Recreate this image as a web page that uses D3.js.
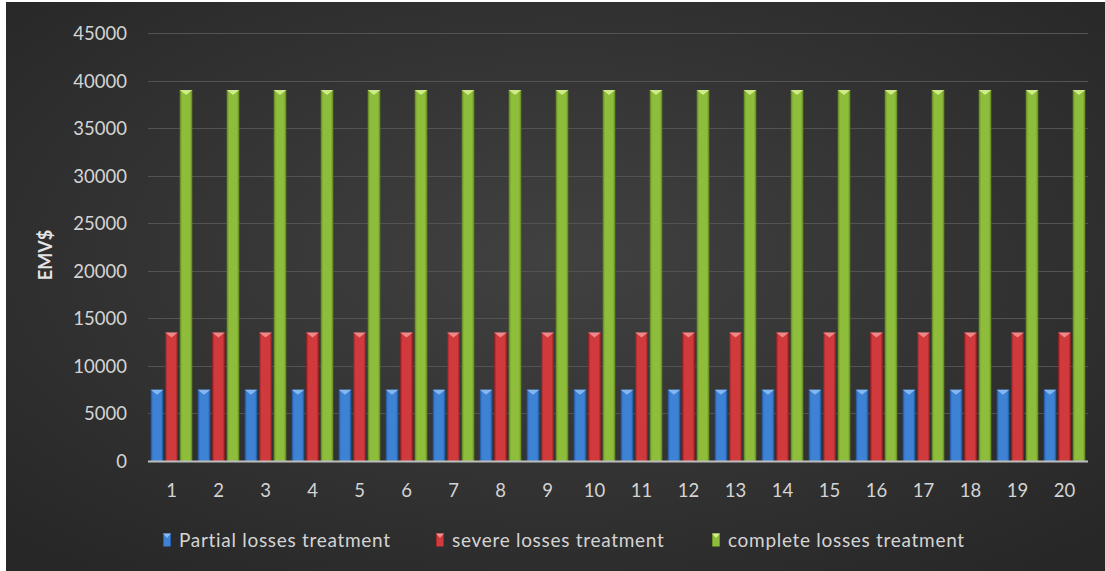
<!DOCTYPE html>
<html>
<head>
<meta charset="utf-8">
<script src="https://cdn.jsdelivr.net/npm/d3@7"></script>
<style>
  html, body { margin: 0; padding: 0; background: #ffffff; }
  svg { display: block; }
  text { font-family: Lato, "Open Sans", sans-serif; }
</style>
</head>
<body>
<svg id="chart" width="1105" height="571"></svg>
<script>
// Expected monetary value per scenario for each treatment type
const categories = ["1","2","3","4","5","6","7","8","9","10","11","12","13","14","15","16","17","18","19","20"];
const partialLosses  = [7500,7500,7500,7500,7500,7500,7500,7500,7500,7500,7500,7500,7500,7500,7500,7500,7500,7500,7500,7500];
const severeLosses   = [13500,13500,13500,13500,13500,13500,13500,13500,13500,13500,13500,13500,13500,13500,13500,13500,13500,13500,13500,13500];
const completeLosses = [39000,39000,39000,39000,39000,39000,39000,39000,39000,39000,39000,39000,39000,39000,39000,39000,39000,39000,39000,39000];
const seriesNames = ["Partial losses treatment", "severe losses treatment", "complete losses treatment"];
const yTicks = [0,5000,10000,15000,20000,25000,30000,35000,40000,45000];
const yLabel = "EMV$";

const series = [
  { name: seriesNames[0], values: partialLosses,  base: "#3d82d4", dark: "#1d4f95", light: "#8cbcf2", key: "b" },
  { name: seriesNames[1], values: severeLosses,   base: "#d13a3c", dark: "#8e1d20", light: "#f29090", key: "r" },
  { name: seriesNames[2], values: completeLosses, base: "#8dbd3a", dark: "#5a7d1e", light: "#d6f090", key: "g" }
];

const svg = d3.select("#chart");
const W = 1105, H = 571;
const defs = svg.append("defs");

// dark backdrop with a soft lighter centre
const bg = defs.append("radialGradient").attr("id", "bgGrad")
  .attr("cx", "50%").attr("cy", "45%").attr("r", "70%");
bg.append("stop").attr("offset", "0%").attr("stop-color", "#414141");
bg.append("stop").attr("offset", "100%").attr("stop-color", "#272727");

svg.append("rect").attr("x", 6).attr("y", 2).attr("width", W - 6).attr("height", H - 2)
  .attr("fill", "url(#bgGrad)");

// bevelled bar shading
series.forEach(s => {
  const g = defs.append("linearGradient").attr("id", "bar-" + s.key)
    .attr("x1", "0%").attr("x2", "100%").attr("y1", "0%").attr("y2", "0%");
  g.append("stop").attr("offset", "0%").attr("stop-color", s.dark);
  g.append("stop").attr("offset", "18%").attr("stop-color", s.base);
  g.append("stop").attr("offset", "82%").attr("stop-color", s.base);
  g.append("stop").attr("offset", "100%").attr("stop-color", s.dark);
});

const plot = { left: 148, right: 1088, top: 33, bottom: 461 };
const labelColor = "#d4d4d4";

const x = d3.scaleBand().domain(categories).range([plot.left, plot.right]).paddingInner(0).paddingOuter(0);
const inner = d3.scaleBand().domain(series.map(s => s.key))
  .range([0, x.bandwidth()]).paddingOuter(0.12).paddingInner(0);
const y = d3.scaleLinear().domain([0, 45000]).range([plot.bottom, plot.top]);

// gridlines
svg.append("g").selectAll("line").data(yTicks.filter(t => t > 0)).join("line")
  .attr("x1", plot.left).attr("x2", plot.right)
  .attr("y1", d => Math.round(y(d)) + 0.5).attr("y2", d => Math.round(y(d)) + 0.5)
  .attr("stroke", "#535353").attr("stroke-width", 1.2);

// y axis labels
const yAxis = svg.append("g").attr("transform", `translate(${plot.left - 21},0)`)
  .call(d3.axisLeft(y).tickValues(yTicks).tickSize(0).tickPadding(0).tickFormat(d3.format("d")));
yAxis.select(".domain").remove();
yAxis.selectAll("text").attr("fill", labelColor).attr("font-size", 18.5)
  .attr("font-family", "Lato, 'Open Sans', sans-serif").attr("dy", "0.35em");

// bars
const barW = inner.bandwidth() - 1.8;
series.forEach(s => {
  const grp = svg.append("g");
  const rows = categories.map((c, i) => ({ c, v: s.values[i] }));
  grp.selectAll("rect").data(rows).join("rect")
    .attr("x", d => x(d.c) + inner(s.key) + 0.9)
    .attr("y", d => y(d.v))
    .attr("width", barW)
    .attr("height", d => y(0) - y(d.v))
    .attr("fill", `url(#bar-${s.key})`);
  // small lighter bevel at the top of each bar
  grp.selectAll("path").data(rows).join("path")
    .attr("d", d => {
      const x0 = x(d.c) + inner(s.key) + 0.9, y0 = y(d.v);
      return `M${x0},${y0} L${x0 + barW},${y0} L${x0 + barW / 2},${y0 + 5} Z`;
    })
    .attr("fill", s.light).attr("opacity", 0.9);
});

// x axis baseline
svg.append("line").attr("x1", plot.left).attr("x2", plot.right)
  .attr("y1", plot.bottom + 0.5).attr("y2", plot.bottom + 0.5)
  .attr("stroke", "#bdbdbd").attr("stroke-width", 2);

// x axis labels
const xAxis = svg.append("g").attr("transform", `translate(0,${plot.bottom + 30})`)
  .call(d3.axisBottom(x).tickSize(0).tickPadding(0));
xAxis.select(".domain").remove();
xAxis.selectAll("text").attr("fill", labelColor).attr("font-size", 18.5)
  .attr("font-family", "Lato, 'Open Sans', sans-serif").attr("dy", "0.35em");

// y axis title
svg.append("text")
  .attr("transform", `translate(51.5,255) rotate(-90)`)
  .attr("text-anchor", "middle").attr("fill", "#e4e4e4")
  .attr("font-size", 18).attr("font-weight", "bold")
  .text(yLabel);

// legend
const legendX = [163, 436, 712];
const legend = svg.append("g");
series.forEach((s, i) => {
  const lg = legend.append("g").attr("transform", `translate(${legendX[i]},540)`);
  lg.append("rect").attr("x", 0).attr("y", -6.5).attr("width", 8).attr("height", 13)
    .attr("fill", `url(#bar-${s.key})`);
  lg.append("path").attr("d", "M0,-6.5 L8,-6.5 L4,-2 Z").attr("fill", s.light);
  lg.append("text").attr("x", 16).attr("y", 0).attr("dy", "0.35em")
    .attr("fill", labelColor).attr("font-size", 19).attr("letter-spacing", 0.7).text(s.name);
});
</script>
</body>
</html>
